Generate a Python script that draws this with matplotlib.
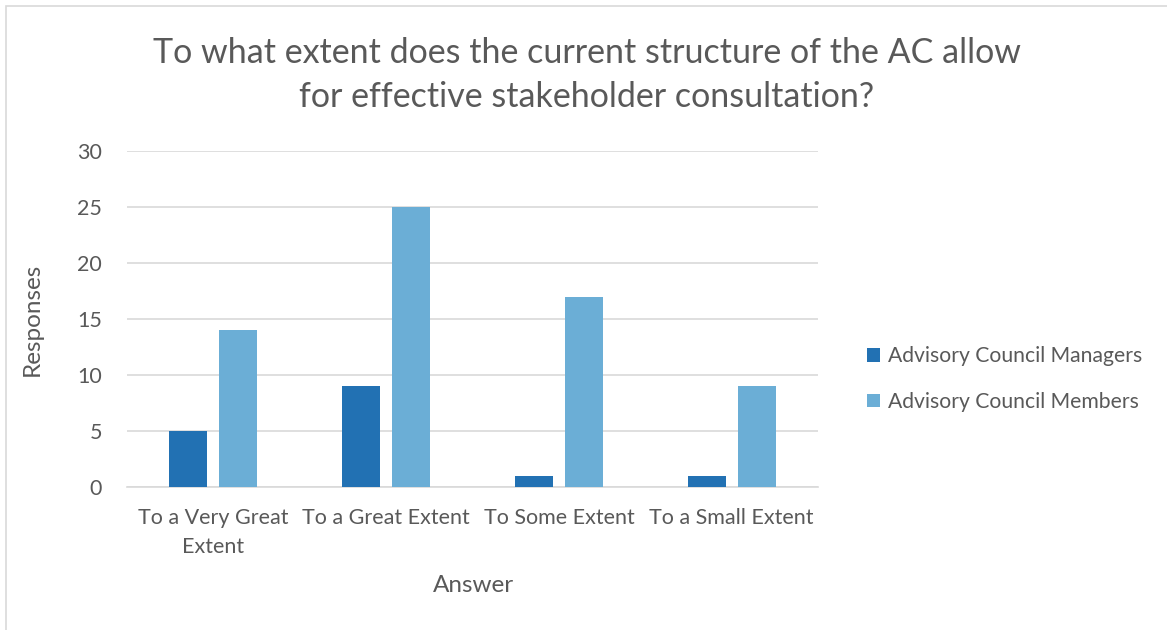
import matplotlib.pyplot as plt
import numpy as np
from matplotlib.patches import Rectangle

plt.rcParams['font.family'] = ['Lato', 'DejaVu Sans']

categories = ['To a Very Great\nExtent', 'To a Great Extent', 'To Some Extent', 'To a Small Extent']
managers = [5, 9, 1, 1]
members = [14, 25, 17, 9]

text_col = '#595959'
dark = '#2271b3'
light = '#6baed6'

W, H = 1167, 630
fig = plt.figure(figsize=(W / 100, H / 100), dpi=100)

# light frame around the chart area
fig.patches.append(Rectangle((6 / W, -0.1), 1.2, 1 - 6 / H + 0.1, transform=fig.transFigure,
                             fill=False, edgecolor='#d9d9d9', linewidth=1.2))

ax = fig.add_axes([127 / W, 1 - 487 / H, (818 - 127) / W, (487 - 151) / H])

x = np.arange(len(categories))
bw = 0.22
off = 0.145
ax.bar(x - off, managers, bw, color=dark, label='Advisory Council Managers', zorder=3)
ax.bar(x + off, members, bw, color=light, label='Advisory Council Members', zorder=3)

ax.set_xlim(-0.5, len(categories) - 0.5)
ax.set_ylim(0, 30)
ax.set_yticks(range(0, 31, 5))
ax.yaxis.grid(True, color='#d9d9d9', linewidth=1.2, zorder=0)
ax.set_axisbelow(True)
for s in ['top', 'right', 'left']:
    ax.spines[s].set_visible(False)
ax.spines['bottom'].set_color('#d9d9d9')
ax.spines['bottom'].set_linewidth(1.2)
ax.tick_params(length=0, labelsize=15.5, colors=text_col)
ax.tick_params(axis='x', pad=15)
ax.tick_params(axis='y', pad=18)
ax.set_xticks(x)
ax.set_xticklabels(categories, linespacing=1.6, va='top')

fig.text(32 / W, 1 - 319 / H, 'Responses', rotation=90, ha='center', va='center',
         fontsize=17.5, color=text_col)
fig.text(473 / W, 1 - 586 / H, 'Answer', ha='center', va='center', fontsize=17.5, color=text_col)

fig.text(587 / W, 1 - 75 / H, 'To what extent does the current structure of the AC allow\nfor effective stakeholder consultation?',
         ha='center', va='center', fontsize=24.5, color=text_col, linespacing=1.45)

leg = ax.legend(loc='center left', bbox_to_anchor=(848 / W, 1 - 379 / H),
                bbox_transform=fig.transFigure, frameon=False, fontsize=15.2,
                handlelength=0.6, handleheight=0.6, handletextpad=0.4, labelspacing=1.2)
for t in leg.get_texts():
    t.set_color(text_col)

fig.savefig('out.png', dpi=100)
